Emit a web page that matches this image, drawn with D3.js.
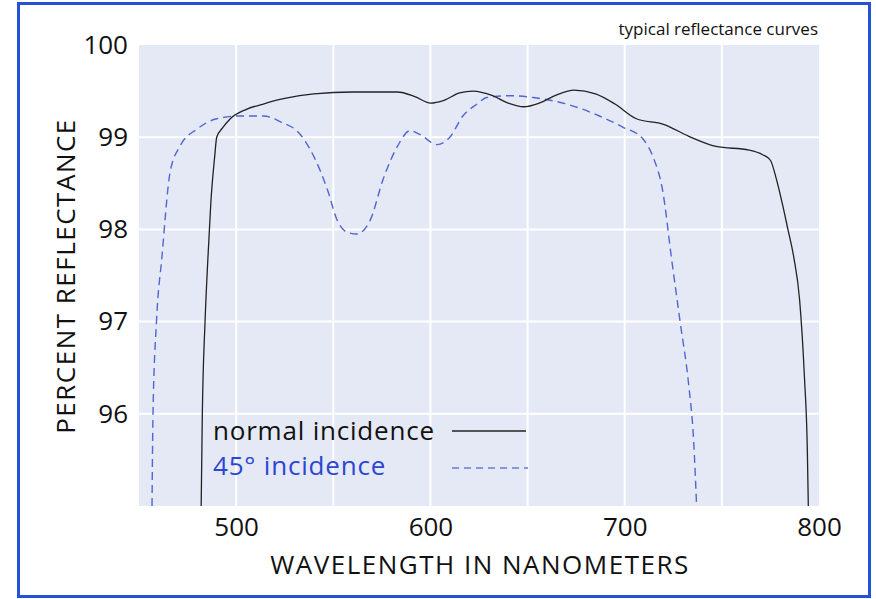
<!DOCTYPE html>
<html lang="en">
<head>
    <meta charset="UTF-8">
    <title>Typical Reflectance Curves</title>
    <script src="https://d3js.org/d3.v7.min.js"></script>
    <style>
        body { margin: 0; background: #fff; }
        text { font-family: "Open Sans", "Noto Sans", sans-serif; }
    </style>
</head>
<body>
    <div id="chart"></div>

    <script>
        // Wavelength (nm) and percent reflectance
        const normalWavelength = [482, 482.6, 484, 485.5, 487, 489, 490, 493, 497, 505, 514, 525, 540, 560, 583, 592, 600, 607, 615, 622, 632, 640, 648, 656, 665, 674, 685, 695, 706, 720, 733, 747, 764, 771, 775, 778, 781, 784, 787, 790, 792.5, 794, 794.5];
        const normalReflectance = [95, 96, 97, 97.7, 98.3, 98.8, 99.0, 99.1, 99.2, 99.3, 99.36, 99.42, 99.47, 99.49, 99.49, 99.44, 99.37, 99.4, 99.48, 99.5, 99.45, 99.37, 99.33, 99.37, 99.46, 99.51, 99.47, 99.36, 99.2, 99.14, 99.01, 98.9, 98.86, 98.81, 98.75, 98.55, 98.29, 98.0, 97.7, 97.24, 96.4, 95.6, 95];

        const obliqueWavelength = [456.7, 457.2, 459, 461.8, 466, 471, 480, 490, 502, 514, 522.6, 533, 540, 547, 552, 557, 562, 569, 575.6, 583, 589.5, 594.6, 603.4, 610, 616.7, 624, 629, 641, 653, 670, 687, 699, 709.4, 714.5, 719.7, 724, 728.5, 733, 735.5, 737];
        const obliqueReflectance = [95, 96, 97, 97.7, 98.62, 98.9, 99.09, 99.2, 99.23, 99.23, 99.17, 99.03, 98.79, 98.43, 98.1, 97.97, 97.95, 98.1, 98.54, 98.9, 99.07, 99.03, 98.92, 99.0, 99.23, 99.36, 99.43, 99.45, 99.43, 99.36, 99.23, 99.11, 98.98, 98.79, 98.4, 97.7, 97, 96.3, 95.7, 95];

        const xTicks = [500, 600, 700, 800];
        const xGrid = [500, 550, 600, 650, 700, 750];
        const yTicks = [96, 97, 98, 99, 100];
        const yGrid = [96, 97, 98, 99];

        const width = 876, height = 599;
        const plot = {left: 139, right: 819, top: 45, bottom: 506};

        const svg = d3.select("#chart")
                      .append("svg")
                      .attr("width", width)
                      .attr("height", height);

        // Outer blue frame
        svg.append("rect")
           .attr("x", 18.5).attr("y", 3.5)
           .attr("width", 851).attr("height", 593)
           .attr("fill", "none")
           .attr("stroke", "#2452d4")
           .attr("stroke-width", 3);

        const xScale = d3.scaleLinear().domain([450, 800]).range([plot.left, plot.right]);
        const yScale = d3.scaleLinear().domain([95, 100]).range([plot.bottom, plot.top]);

        // Plot background
        svg.append("rect")
           .attr("x", plot.left).attr("y", plot.top)
           .attr("width", plot.right - plot.left)
           .attr("height", plot.bottom - plot.top)
           .attr("fill", "#e4e9f5");

        // Grid lines
        svg.append("g")
           .selectAll("line")
           .data(xGrid)
           .join("line")
           .attr("x1", d => xScale(d)).attr("x2", d => xScale(d))
           .attr("y1", plot.top).attr("y2", plot.bottom)
           .attr("stroke", "#fff").attr("stroke-width", 2);

        svg.append("g")
           .selectAll("line")
           .data(yGrid)
           .join("line")
           .attr("x1", plot.left).attr("x2", plot.right)
           .attr("y1", d => yScale(d)).attr("y2", d => yScale(d))
           .attr("stroke", "#fff").attr("stroke-width", 2);

        // Axes (labels only, no domain or tick marks)
        const xAxis = svg.append("g")
           .attr("transform", `translate(0,${plot.bottom})`)
           .call(d3.axisBottom(xScale).tickValues(xTicks).tickSize(0).tickPadding(12).tickFormat(d3.format("d")));
        xAxis.select(".domain").remove();
        xAxis.selectAll("text")
             .attr("font-size", 26).attr("fill", "#111")
             .attr("font-family", "Open Sans");

        const yAxis = svg.append("g")
           .attr("transform", `translate(${plot.left},0)`)
           .call(d3.axisLeft(yScale).tickValues(yTicks).tickSize(0).tickPadding(11).tickFormat(d3.format("d")));
        yAxis.select(".domain").remove();
        yAxis.selectAll("text")
             .attr("font-size", 26).attr("fill", "#111")
             .attr("font-family", "Open Sans");

        // Curves
        const line = d3.line()
                       .x(d => xScale(d[0]))
                       .y(d => yScale(d[1]))
                       .curve(d3.curveMonotoneX);

        const normalData = d3.zip(normalWavelength, normalReflectance);
        const obliqueData = d3.zip(obliqueWavelength, obliqueReflectance);

        svg.append("path")
           .datum(obliqueData)
           .attr("d", line)
           .attr("fill", "none")
           .attr("stroke", "#5066d0")
           .attr("stroke-width", 1.4)
           .attr("stroke-dasharray", "8,5");

        svg.append("path")
           .datum(normalData)
           .attr("d", line)
           .attr("fill", "none")
           .attr("stroke", "#222")
           .attr("stroke-width", 1.3);

        // Legend
        svg.append("text")
           .attr("x", 213).attr("y", 440)
           .attr("font-size", 26).attr("letter-spacing", 0.8)
           .attr("fill", "#111")
           .text("normal incidence");
        svg.append("line")
           .attr("x1", 452).attr("x2", 526)
           .attr("y1", 431).attr("y2", 431)
           .attr("stroke", "#222").attr("stroke-width", 1.3);

        svg.append("text")
           .attr("x", 213).attr("y", 475)
           .attr("font-size", 26).attr("letter-spacing", 0.8)
           .attr("fill", "#2b47d3")
           .text("45° incidence");
        svg.append("line")
           .attr("x1", 452).attr("x2", 528)
           .attr("y1", 468).attr("y2", 468)
           .attr("stroke", "#6a7bd6").attr("stroke-width", 1.3)
           .attr("stroke-dasharray", "7,5");

        // Axis titles
        svg.append("text")
           .attr("x", 480).attr("y", 574)
           .attr("text-anchor", "middle")
           .attr("font-size", 26).attr("letter-spacing", 1.5)
           .attr("fill", "#111")
           .text("WAVELENGTH IN NANOMETERS");

        svg.append("text")
           .attr("transform", "translate(75,276) rotate(-90)")
           .attr("text-anchor", "middle")
           .attr("font-size", 26).attr("letter-spacing", 1.5)
           .attr("fill", "#111")
           .text("PERCENT REFLECTANCE");

        // Caption
        svg.append("text")
           .attr("x", 818).attr("y", 35)
           .attr("text-anchor", "end")
           .attr("font-size", 17)
           .attr("fill", "#111")
           .text("typical reflectance curves");
    </script>
</body>
</html>
